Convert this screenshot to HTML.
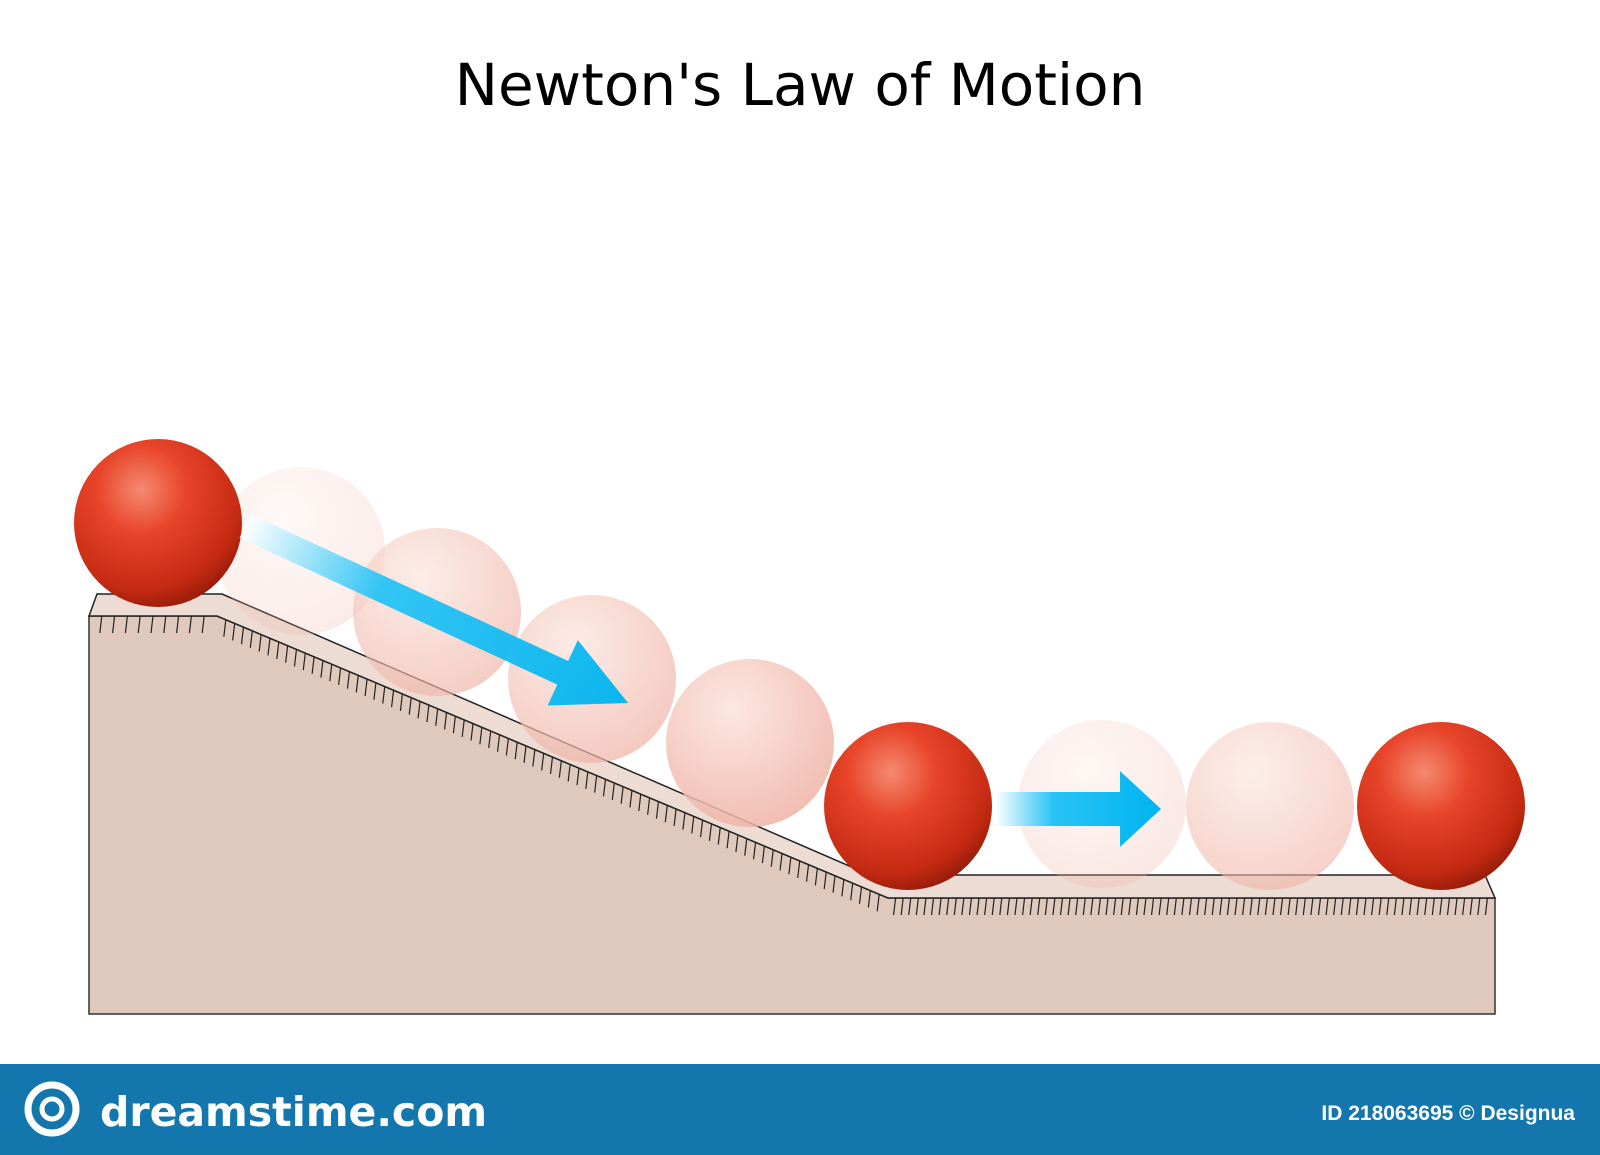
<!DOCTYPE html>
<html><head><meta charset="utf-8"><style>
html,body{margin:0;padding:0;background:#fff;width:1600px;height:1155px;overflow:hidden}
svg{display:block}
</style></head><body>
<svg width="1600" height="1155" viewBox="0 0 1600 1155" xmlns="http://www.w3.org/2000/svg">
<defs>
<radialGradient id="ball" cx="0.4" cy="0.3" r="0.75">
<stop offset="0" stop-color="#f48a70"/><stop offset="0.35" stop-color="#e8452a"/><stop offset="0.8" stop-color="#c42a12"/><stop offset="1" stop-color="#8e1a08"/>
</radialGradient>
<radialGradient id="ghost" cx="0.4" cy="0.3" r="0.75">
<stop offset="0" stop-color="#fbe3dc"/><stop offset="1" stop-color="#eeb0a2"/>
</radialGradient>
<linearGradient id="arr1" x1="0" y1="0" x2="1" y2="0"><stop offset="0" stop-color="#ffffff"/><stop offset="0.35" stop-color="#29c3f5"/><stop offset="1" stop-color="#00b4f0"/></linearGradient>
</defs>
<text x="800" y="105" text-anchor="middle" font-family="'DejaVu Sans','Liberation Sans',sans-serif" font-size="58" fill="#000">Newton's Law of Motion</text>
<g>
<polygon points="89,616 217,616 888,898 1495,898 1495,1014 89,1014" fill="#dfc9bd" stroke="#333" stroke-width="1.5"/>
<polygon points="89,616 97,594 222,594 870,875 1485,875 1495,898 888,898 217,616" fill="#ecdcd4" stroke="#222" stroke-width="1.5"/>
<g id="hatch" stroke="#222" stroke-width="1.2"></g>
</g>
<g id="balls"></g>
<g transform="translate(245,526) rotate(24.8)">
<polygon points="0,-13 350,-13 350,-36 422,0 350,36 350,13 0,13" fill="url(#arr1)" opacity="0.95"/>
</g>
<g transform="translate(995,809)">
<polygon points="0,-17 125,-17 125,-38 166,0 125,38 125,17 0,17" fill="url(#arr1)"/>
</g>
<rect x="0" y="1064" width="1600" height="91" fill="#1377ae"/>
<circle cx="52" cy="1109" r="24" fill="none" stroke="#fff" stroke-width="7"/>
<circle cx="52" cy="1109" r="10" fill="none" stroke="#fff" stroke-width="5"/>
<text x="100" y="1126" font-family="'DejaVu Sans','Liberation Sans',sans-serif" font-size="41" font-weight="bold" fill="#fff">dreamstime.com</text>
<text x="1575" y="1120" text-anchor="end" font-family="'Liberation Sans',sans-serif" font-size="21" font-weight="bold" fill="#fff">ID 218063695 © Designua</text>
</svg>
<script>
const ballX=[301,437,592,750,1102,1270,158,908,1441];
const ballY=[551,612,679,743,804,806,523,806,806];
const ballSolid=[0,0,0,0,0,0,1,1,1];
const ballOpacity=[0.25,0.65,0.7,0.85,0.3,0.6,1,1,1];
const NS='http://www.w3.org/2000/svg';
const g=document.getElementById('balls');
for(let i=0;i<ballX.length;i++){
 const c=document.createElementNS(NS,'circle');
 c.setAttribute('cx',ballX[i]);c.setAttribute('cy',ballY[i]);c.setAttribute('r',84);
 c.setAttribute('fill',ballSolid[i]?'url(#ball)':'url(#ghost)');
 c.setAttribute('opacity',ballOpacity[i]);
 
 
 g.appendChild(c);
}
const h=document.getElementById('hatch');
function seg(x1,y1,x2,y2,step){
 const L=Math.hypot(x2-x1,y2-y1),n=Math.floor(L/step);
 for(let k=1;k<n;k++){const t=k/n;const x=x1+(x2-x1)*t,y=y1+(y2-y1)*t;
  const l=document.createElementNS(NS,'line');
  l.setAttribute('x1',x);l.setAttribute('y1',y);l.setAttribute('x2',x-2);l.setAttribute('y2',y+17);
  h.appendChild(l);}
}
seg(89,616,217,616,12);seg(217,616,888,898,9.5);seg(888,898,1495,898,7.5);
</script>
</body></html>
